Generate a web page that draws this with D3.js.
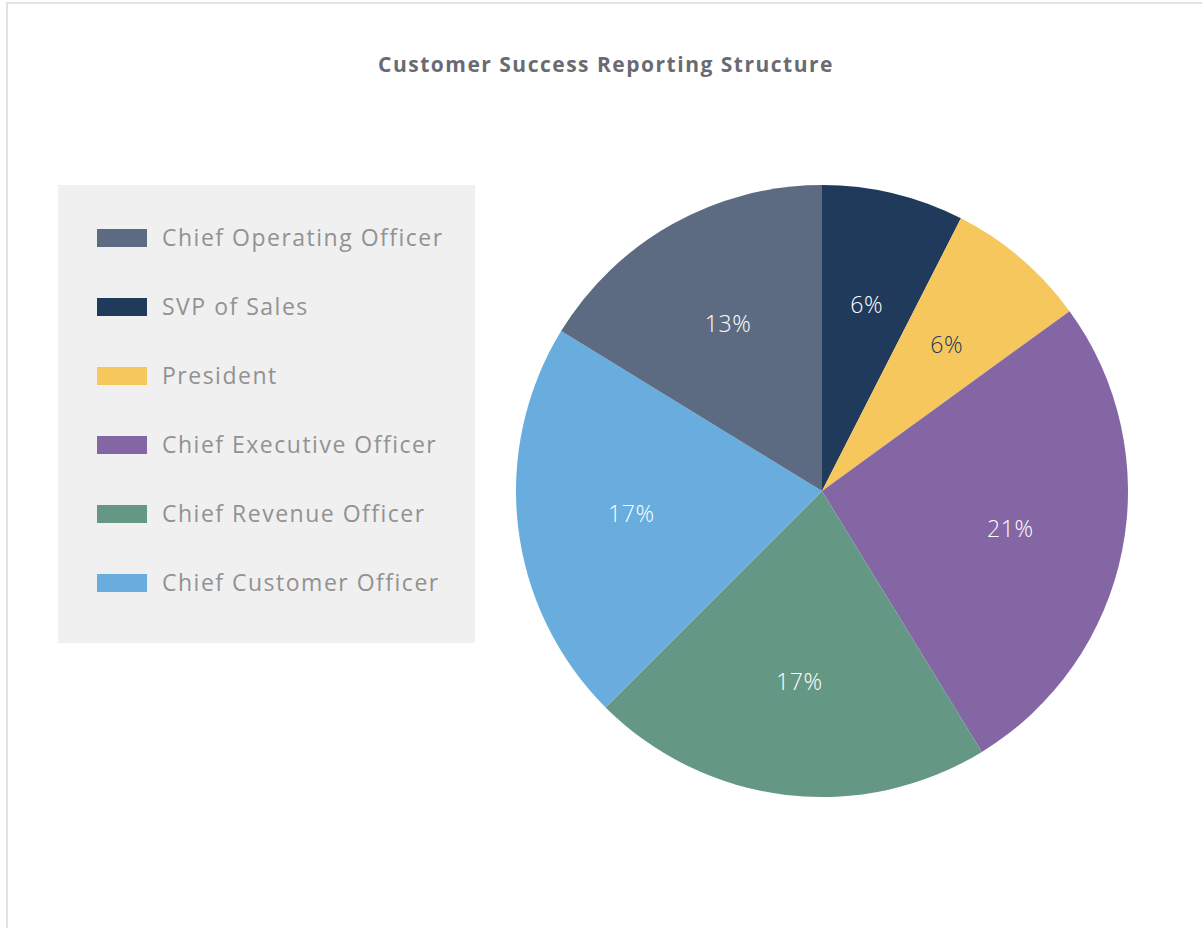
<!DOCTYPE html>
<html>
<head>
<meta charset="utf-8">
<script src="https://cdn.jsdelivr.net/npm/d3@7"></script>
<style>
  html, body { margin: 0; padding: 0; background: #fff; overflow: hidden; }
  #frame {
    position: absolute; left: 6px; top: 2px; width: 1200px; height: 930px;
    border-top: 2px solid #dfe3e7; border-left: 2px solid #dfe3e7;
  }
  #chart { position: absolute; left: 0; top: 0; }
  text { font-family: "Open Sans", sans-serif; }
</style>
</head>
<body>
<div id="frame"></div>
<div id="chart"></div>
<script>
// slices, clockwise from 12 o'clock
const roles = ["SVP of Sales", "President", "Chief Executive Officer",
               "Chief Revenue Officer", "Chief Customer Officer", "Chief Operating Officer"];
const shares = [6, 6, 21, 17, 17, 13];
const roleColors = ["#1f3a5a", "#f5c75d", "#8466a5", "#659785", "#68addd", "#5d6b82"];
const labelColors = ["#ffffff", "#1f3a5a", "#ffffff", "#ffffff", "#ffffff", "#ffffff"];
// legend order as shown in the box
const legendOrder = ["Chief Operating Officer", "SVP of Sales", "President",
                     "Chief Executive Officer", "Chief Revenue Officer", "Chief Customer Officer"];
const chartTitle = "Customer Success Reporting Structure";

function drawChart(container){
    const width = 1202, height = 928;
    const cx = 822, cy = 491, radius = 306;

    const svg = d3.select(container)
        .append('svg')
            .attr('width', width)
            .attr('height', height);

    svg.append('text')
        .attr('x', 606)
        .attr('y', 72)
        .attr('text-anchor', 'middle')
        .style('font-size', '21px')
        .style('font-weight', 700)
        .style('letter-spacing', '1.5px')
        .style('fill', '#6a6a72')
        .text(chartTitle);

    const data = roles.map((r, i) => ({role: r, value: shares[i], color: roleColors[i], labelColor: labelColors[i]}));
    const colorOf = d3.scaleOrdinal().domain(roles).range(roleColors);

    // legend box
    const legend = svg.append('g').classed('legend', true);
    legend.append('rect')
        .attr('x', 58).attr('y', 185)
        .attr('width', 417).attr('height', 458)
        .style('fill', '#f0f0f0');

    const rowY = d3.scalePoint().domain(legendOrder).range([238, 583]);
    const rows = legend.selectAll('g.row')
        .data(legendOrder)
        .enter().append('g')
        .classed('row', true)
        .attr('transform', d => `translate(0,${rowY(d)})`);
    rows.append('rect')
        .attr('x', 97).attr('y', -9)
        .attr('width', 50).attr('height', 18)
        .style('fill', d => colorOf(d));
    rows.append('text')
        .attr('x', 162)
        .attr('dy', '0.36em')
        .style('font-size', '23px')
        .style('letter-spacing', '1.5px')
        .style('fill', '#929292')
        .text(d => d);

    // pie
    const pie = d3.pie().sort(null).value(d => d.value);
    const arc = d3.arc().innerRadius(0).outerRadius(radius);
    const labelArc = d3.arc().innerRadius(192).outerRadius(192);

    const g = svg.append('g')
        .classed('pie', true)
        .attr('transform', `translate(${cx},${cy})`);

    const slices = pie(data);
    g.selectAll('path')
        .data(slices)
        .enter().append('path')
        .attr('d', arc)
        .style('fill', d => d.data.color);

    g.selectAll('text')
        .data(slices)
        .enter().append('text')
        .attr('transform', d => `translate(${labelArc.centroid(d)})`)
        .attr('text-anchor', 'middle')
        .attr('dy', '0.36em')
        .style('font-size', '23px')
        .style('font-weight', 300)
        .style('letter-spacing', '0.6px')
        .style('fill', d => d.data.labelColor)
        .text(d => `${d.data.value}%`);
}

drawChart('#chart');
</script>
</body>
</html>
